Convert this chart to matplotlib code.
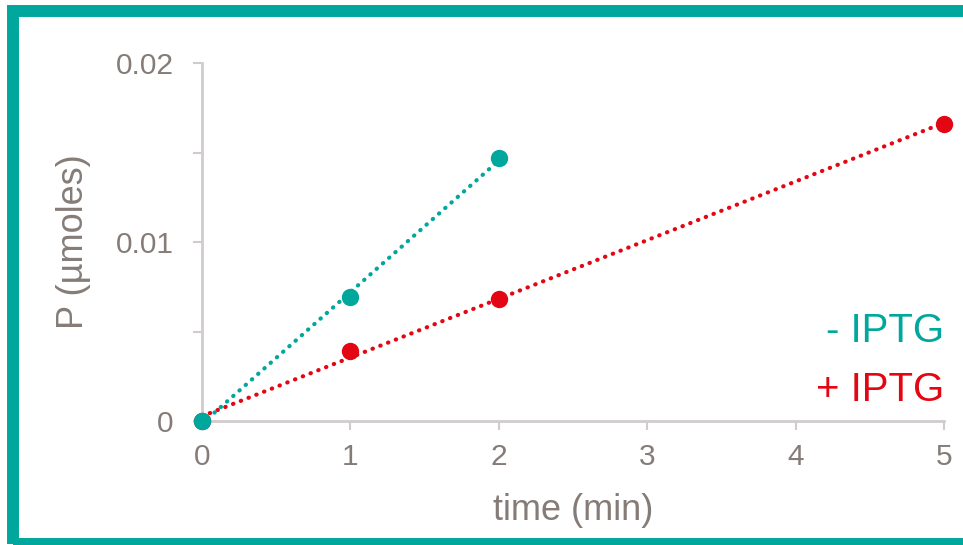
# P frente al tiempo, con y sin IPTG
import numpy as np
import matplotlib.pyplot as plt
from matplotlib.patches import Rectangle

# datos
t_menos = [0, 1, 2]
p_menos = [0.0, 0.0069, 0.0147]
t_mas = [0, 1, 2, 5]
p_mas = [0.0, 0.0039, 0.0068, 0.0166]

verde = '#00A79D'
rojo = '#E30613'
gris = '#857C77'
gris_eje = '#D0CCCC'

plt.rcParams['font.family'] = ['Liberation Sans', 'DejaVu Sans']

fig = plt.figure(figsize=(9.63, 5.45), dpi=100)
ax = fig.add_axes([202/963, 1 - 421/545, 742/963, 358/545])

# lineas de tendencia (ajuste lineal) punteadas
for t, p, c in [(t_mas, p_mas, rojo), (t_menos, p_menos, verde)]:
    a, b = np.polyfit(t, p, 1)
    xs = np.array([min(t), max(t)])
    ax.plot(xs, a * xs + b, color=c, lw=3, linestyle=(0, (0.1, 1.9)),
            dash_capstyle='round', clip_on=False, zorder=2)

ax.plot(t_mas, p_mas, 'o', color=rojo, ms=12.5, mec='none', clip_on=False, zorder=3)
ax.plot(t_menos, p_menos, 'o', color=verde, ms=12.5, mec='none', clip_on=False, zorder=4)

ax.set_xlim(0, 5)
ax.set_ylim(0, 0.02)
ax.set_xticks([0, 1, 2, 3, 4, 5])
ax.set_yticks([0, 0.01, 0.02])
ax.set_yticklabels(['0', '0.01', '0.02'])
ax.set_yticks([0.005, 0.015], minor=True)

for s in ['top', 'right']:
    ax.spines[s].set_visible(False)
for s in ['left', 'bottom']:
    ax.spines[s].set_color(gris_eje)
    ax.spines[s].set_linewidth(2)

ax.tick_params(which='both', length=6.5, width=1.5, color=gris_eje,
               labelcolor=gris, labelsize=21.5)
ax.tick_params(axis='y', which='both', pad=14)
ax.tick_params(axis='x', pad=9)

ax.set_xlabel('time (min)', fontsize=26, color=gris, labelpad=16)
ax.set_ylabel('P (µmoles)', fontsize=26, color=gris, labelpad=18)

ax.text(5, 0.0044, '- IPTG', color=verde, fontsize=29, ha='right', va='baseline')
ax.text(5, 0.0011, '+ IPTG', color=rojo, fontsize=29, ha='right', va='baseline')

# marco verde alrededor de la figura (el lado derecho queda casi fuera)
fig.add_artist(Rectangle((13/963, 1 - 544/545), 955/963, 533/545,
                         transform=fig.transFigure, fill=False,
                         edgecolor=verde, lw=8.6))

fig.savefig('out.png', dpi=100)
